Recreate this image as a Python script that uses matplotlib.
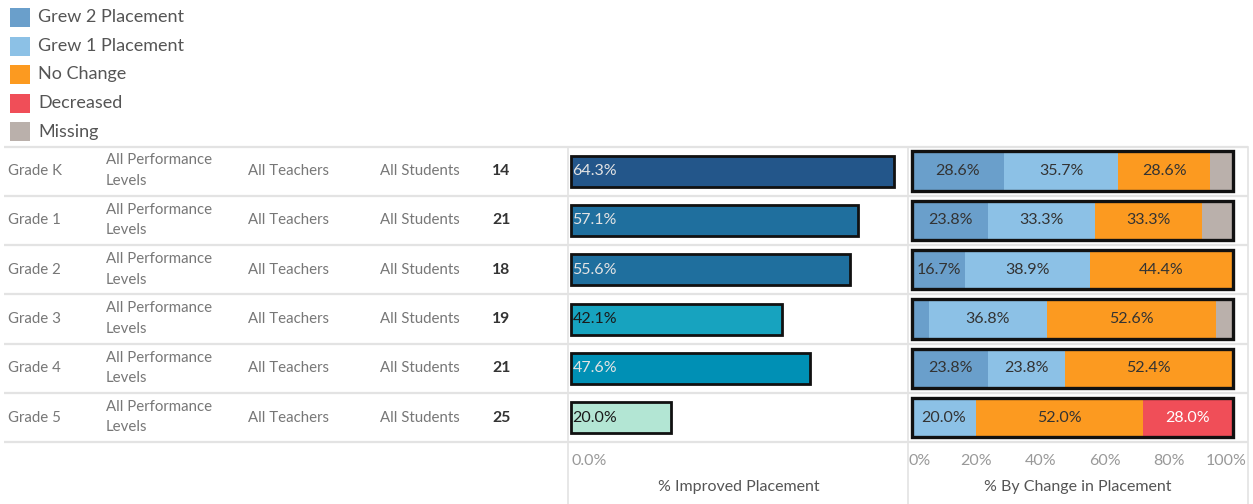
import matplotlib
matplotlib.use("Agg")
import matplotlib.pyplot as plt
from matplotlib.patches import Rectangle
import numpy as np

plt.rcParams['font.family'] = ['Lato', 'DejaVu Sans']

# data
grades = ["Grade K", "Grade 1", "Grade 2", "Grade 3", "Grade 4", "Grade 5"]
perf_level = "All Performance\nLevels"
teachers = "All Teachers"
students = "All Students"
counts = [14, 21, 18, 19, 21, 25]
improved = [64.3, 57.1, 55.6, 42.1, 47.6, 20.0]

categories = ["Grew 2 Placement", "Grew 1 Placement", "No Change", "Decreased", "Missing"]
grew2 = [28.6, 23.8, 16.7, 5.3, 23.8, 0.0]
grew1 = [35.7, 33.3, 38.9, 36.8, 23.8, 20.0]
no_change = [28.6, 33.3, 44.4, 52.6, 52.4, 52.0]
decreased = [0.0, 0.0, 0.0, 0.0, 0.0, 28.0]
missing = [7.1, 9.5, 0.0, 5.3, 0.0, 0.0]

# styles
cat_colors = ["#6a9fcb", "#8cc1e6", "#fc9a20", "#f04e58", "#bab0ab"]
cat_text = ["#333333", "#333333", "#333333", "#ffffff", "#333333"]
improved_colors = ["#23568a", "#1f6f9e", "#1f6f9e", "#17a3bf", "#0090b5", "#b3e6d4"]
improved_text = ["#e4e4e4", "#e4e4e4", "#e4e4e4", "#1a1a1a", "#e4e4e4", "#1a1a1a"]

W, H = 1253, 504
fig = plt.figure(figsize=(W / 100, H / 100), dpi=100)
fig.patch.set_facecolor("white")

def px_axes(x0, y0, x1, y1):
    return fig.add_axes([x0 / W, 1 - y1 / H, (x1 - x0) / W, (y1 - y0) / H])

top, bottom = 146.5, 442.3
row_h = (bottom - top) / len(grades)
grid_c = "#e3e3e3"
txt_c = "#777777"
fs = 10.8
num_fs = 11.5

# background axes in pixel coordinates (table + grid)
bg = px_axes(0, 0, W, H)
bg.set_xlim(0, W)
bg.set_ylim(H, 0)
bg.axis("off")
bg.set_zorder(0)

for i in range(len(grades) + 1):
    y = top + i * row_h
    bg.plot([4, 1248], [y, y], color=grid_c, lw=1.6, solid_capstyle="butt")
for x in [568, 908, 1248]:
    bg.plot([x, x], [top, H], color=grid_c, lw=1.2)

for i, g in enumerate(grades):
    yc = top + (i + 0.5) * row_h
    bg.text(8, yc, g, ha="left", va="center", fontsize=fs, color=txt_c)
    bg.text(106, yc - 0.5, perf_level, ha="left", va="center", fontsize=fs,
            color=txt_c, linespacing=1.6)
    bg.text(248, yc, teachers, ha="left", va="center", fontsize=fs, color=txt_c)
    bg.text(380, yc, students, ha="left", va="center", fontsize=fs, color=txt_c)
    bg.text(492, yc, str(counts[i]), ha="left", va="center", fontsize=fs + 0.5,
            color="#333333", fontweight="bold")

# legend
for k, (cat, col) in enumerate(zip(categories, cat_colors)):
    yc = 17.5 + k * 28.5
    bg.add_patch(Rectangle((10, yc - 9.5), 20, 19, facecolor=col, edgecolor="none"))
    bg.text(38, yc, cat, ha="left", va="center", fontsize=13, color="#555555")

y_pos = np.arange(len(grades)) + 0.5

# left panel: % improved placement
ax1 = px_axes(569, top, 908, bottom)
ax1.set_zorder(2)
ax1.patch.set_alpha(0)
ax1.set_xlim(-0.4, 67.1)
ax1.set_ylim(len(grades), 0)
ax1.barh(y_pos, improved, height=0.63, color=improved_colors,
         edgecolor="#111111", linewidth=2)
for i, v in enumerate(improved):
    ax1.text(0.3, y_pos[i], f"{v:.1f}%", ha="left", va="center", fontsize=num_fs,
             color=improved_text[i])
ax1.axis("off")

# right panel: % by change in placement
ax2 = px_axes(908, top, 1248, bottom)
ax2.set_zorder(2)
ax2.patch.set_alpha(0)
ax2.set_xlim(-1.2, 104.7)
ax2.set_ylim(len(grades), 0)
series = [grew2, grew1, no_change, decreased, missing]
left = np.zeros(len(grades))
for vals, col, tc in zip(series, cat_colors, cat_text):
    vals = np.array(vals)
    ax2.barh(y_pos, vals, left=left, height=0.8, color=col, edgecolor="none")
    for i, v in enumerate(vals):
        if v >= 10:
            ax2.text(left[i] + v / 2, y_pos[i], f"{v:.1f}%", ha="center",
                     va="center", fontsize=num_fs, color=tc)
    left += vals
for i in range(len(grades)):
    ax2.add_patch(Rectangle((0, y_pos[i] - 0.4), left[i], 0.8, facecolor="none",
                            edgecolor="#111111", linewidth=2.4))
ax2.axis("off")

# axis labels below panels
axl1 = px_axes(569, bottom, 908, H)
axl1.set_xlim(ax1.get_xlim())
axl1.set_ylim(H - bottom, 0)
axl1.axis("off")
axl1.text(0, 19, "0.0%", ha="left", va="center", fontsize=num_fs, color="#999999")
axl1.text(np.mean(ax1.get_xlim()), 45, "% Improved Placement", ha="center",
          va="center", fontsize=11.5, color="#555555")

axl2 = px_axes(908, bottom, 1248, H)
axl2.set_xlim(ax2.get_xlim())
axl2.set_ylim(H - bottom, 0)
axl2.axis("off")
ticks = [0, 20, 40, 60, 80, 100]
for t in ticks:
    ha = "left" if t == 0 else "center"
    xt = t - 1.0 if t == 0 else (t - 2 if t == 100 else t)
    axl2.text(xt, 19, f"{t}%", ha=ha, va="center", fontsize=num_fs, color="#999999")
axl2.text(np.mean(ax2.get_xlim()), 45, "% By Change in Placement", ha="center",
          va="center", fontsize=11.5, color="#555555")

fig.savefig("out.png", dpi=100)
